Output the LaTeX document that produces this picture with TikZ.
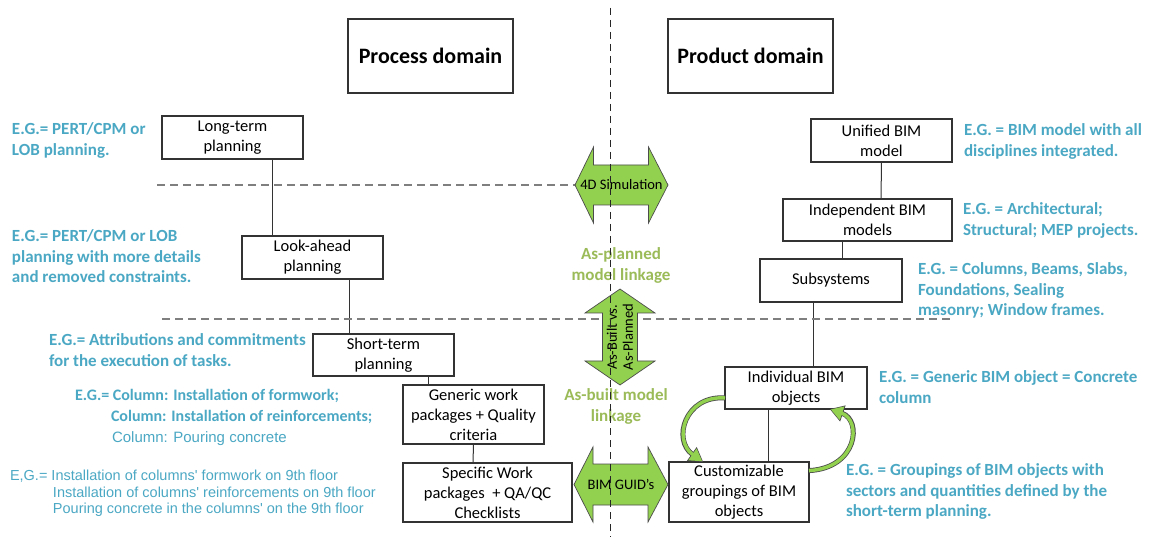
\documentclass[tikz,border=0pt]{standalone}
\usepackage{fontspec}
\setmainfont{Carlito}
\newfontfamily\arialfont{Liberation Sans}
\usetikzlibrary{arrows.meta}

\definecolor{c4bacc6}{RGB}{75,168,196}
\definecolor{c92d050}{RGB}{146,208,80}
\definecolor{c9bbb59}{RGB}{155,187,89}
\definecolor{c7f7f7f}{RGB}{127,127,127}

\begin{document}
\begin{tikzpicture}[x=1pt, y=1pt, yscale=-1, inner sep=0pt, outer sep=0pt,
  box/.style={draw=black!80, line width=1.2pt, align=center,
    font=\fontsize{16.5}{20}\selectfont},
  domainbox/.style={box, minimum width=165pt, minimum height=74pt,
    font=\fontsize{22}{26}\selectfont\bfseries},
  eg/.style={anchor=north west, align=left, text=c4bacc6,
    font=\fontsize{17}{20.5}\selectfont\bfseries},
  link/.style={align=center, text=c9bbb59,
    font=\fontsize{17}{21}\selectfont\bfseries},
  tie/.style={draw=black!80, line width=1pt},
  level/.style={draw=c7f7f7f, line width=1.5pt, dash pattern=on 8pt off 5pt},
  blockarrow/.style={draw=black!70, fill=c92d050, line width=0.7pt, line join=miter},
  arrowtext/.style={font=\fontsize{14.5}{16}\selectfont}]
\path[fill=white] (0,0) rectangle (1149,537);
\useasboundingbox (0,0) rectangle (1149,537);

\node[domainbox] (process) at (430.5,56) {Process domain};
\node[domainbox] (product) at (750.5,56) {Product domain};

\node[box, minimum width=141pt, minimum height=43pt] (longterm) at (232.5,137.5) {Long-term\\planning};
\node[box, minimum width=141pt, minimum height=43pt] (lookahead) at (312.5,257.5) {Look-ahead\\planning};
\node[box, minimum width=141pt, minimum height=42pt] (shortterm) at (383.5,355) {Short-term\\planning};
\node[box, minimum width=141pt, minimum height=59pt] (generic) at (473.5,414.5) {Generic work\\packages + Quality\\criteria};
\node[box, minimum width=169pt, minimum height=59pt] (specific) at (487.5,492.5) {Specific Work\\packages\ \ + QA/QC\\Checklists};

\node[box, minimum width=141pt, minimum height=43pt] (unified) at (881.5,140.5) {Unified BIM\\model};
\node[box, minimum width=169pt, minimum height=42pt] (independent) at (867.5,220) {Independent BIM\\models};
\node[box, minimum width=142pt, minimum height=43pt] (subsystems) at (831,280.5) {Subsystems};
\node[box, minimum width=142pt, minimum height=42pt] (individual) at (796,388) {Individual BIM\\objects};
\node[box, minimum width=140pt, minimum height=60pt] (grouping) at (739,492) {Customizable\\groupings of BIM\\objects};

\draw[tie] ([xshift=39.5pt]longterm.south) -- ([xshift=-40.5pt]lookahead.north);
\draw[tie] ([xshift=36.5pt]lookahead.south) -- ([xshift=-34.5pt]shortterm.north);
\draw[tie] ([xshift=44.5pt]shortterm.south) -- ([xshift=-45.5pt]generic.north);
\draw[tie] (generic.south) -- ([xshift=-14.5pt]specific.north);
\draw[tie] (unified.south) -- ([xshift=13.5pt]independent.north);
\draw[tie] ([xshift=-25.5pt]independent.south) -- ([xshift=11pt]subsystems.north);
\draw[tie] ([xshift=-18pt]subsystems.south) -- ([xshift=17pt]individual.north);
\draw[tie] ([xshift=-28pt]individual.south) -- ([xshift=29pt]grouping.north);

\draw[level] (157,185) -- (600,185);
\draw[level] (162,319) -- (950,319);

\begin{scope}[shift={(621.5,185)}]
  \path[blockarrow] (-46.5,0) -- (-28,-38) -- (-28,-20) -- (27,-20) -- (27,-38) --
    (46.5,0) -- (27,38) -- (27,20) -- (-28,20) -- (-28,38) -- cycle;
\end{scope}
\node[arrowtext] (simulation) at (621.5,185) {4D Simulation};

\begin{scope}[shift={(620,337)}]
  \path[blockarrow] (0,-48) -- (35,-24) -- (17.5,-24) -- (17.5,24) -- (35,24) --
    (0,48) -- (-35,24) -- (-17.5,24) -- (-17.5,-24) -- (-35,-24) -- cycle;
\end{scope}
\node[arrowtext, rotate=90, align=center] (asbuilt) at (620,337) {As-Built vs.\\As-Planned};

\begin{scope}[shift={(621,484.5)}]
  \path[blockarrow] (-47,0) -- (-28,-37.5) -- (-28,-20.5) -- (27,-20.5) -- (27,-37.5) --
    (47,0) -- (27,37.5) -- (27,20.5) -- (-28,20.5) -- (-28,37.5) -- cycle;
\end{scope}
\node[arrowtext] (guid) at (621,484.5) {BIM GUID's};

\draw[black!70, line width=5pt, -{Triangle[length=14pt, width=16pt]}]
  (individual.188) .. controls (685,395) and (672,440) .. (grouping.140);
\draw[c92d050, line width=3.4pt, shorten >=1.2pt, -{Triangle[length=12pt, width=13.5pt]}]
  (individual.188) .. controls (685,395) and (672,440) .. (grouping.140);
\draw[black!70, line width=5pt, -{Triangle[length=14pt, width=16pt]}]
  (grouping.17) .. controls (858,468) and (862,420) .. (individual.-32);
\draw[c92d050, line width=3.4pt, shorten >=1.2pt, -{Triangle[length=12pt, width=13.5pt]}]
  (grouping.17) .. controls (858,468) and (862,420) .. (individual.-32);

\node[link] (planlink) at (621,265.5) {As-planned\\model linkage};
\node[link] (builtlink) at (616,406.5) {As-built model\\linkage};

\node[eg] (eglong) at (12,123) {E.G.= PERT/CPM or\\LOB planning.};
\node[eg] (eglook) at (12,230) {E.G.= PERT/CPM or LOB\\planning with more details\\and removed constraints.};
\node[eg] (egshort) at (49,334) {E.G.= Attributions and commitments\\for the execution of tasks.};
\node[eg, font=\fontsize{16}{21}\selectfont\bfseries] (egcolumn) at (75,389)
  {E.G.= Column: Installation of formwork;\\
   \hspace*{36pt}Column: Installation of reinforcements;\\
   \hspace*{37pt}{\arialfont\mdseries\fontsize{15}{21}\selectfont Column: Pouring concrete}};
\node[eg, font=\arialfont\fontsize{14.5}{16.5}\selectfont] (egfloor) at (10,470)
  {E,G.= Installation of columns' formwork on 9th floor\\
   \hspace*{43pt}Installation of columns' reinforcements on 9th floor\\
   \hspace*{43pt}Pouring concrete in the columns' on the 9th floor};

\node[eg] (egunified) at (964,124) {E.G. = BIM model with all\\disciplines integrated.};
\node[eg] (egindep) at (963,203) {E.G. = Architectural;\\Structural; MEP projects.};
\node[eg] (egsub) at (918,263) {E.G. = Columns, Beams, Slabs,\\Foundations, Sealing\\masonry; Window frames.};
\node[eg] (egindiv) at (879,371) {E.G. = Generic BIM object = Concrete\\column};
\node[eg] (eggroup) at (846,464) {E.G. = Groupings of BIM objects with\\sectors and quantities defined by the\\short-term planning.};

\draw[black!85, line width=1pt, dash pattern=on 7pt off 5pt] (610,8) -- (610,537);
\end{tikzpicture}
\end{document}
